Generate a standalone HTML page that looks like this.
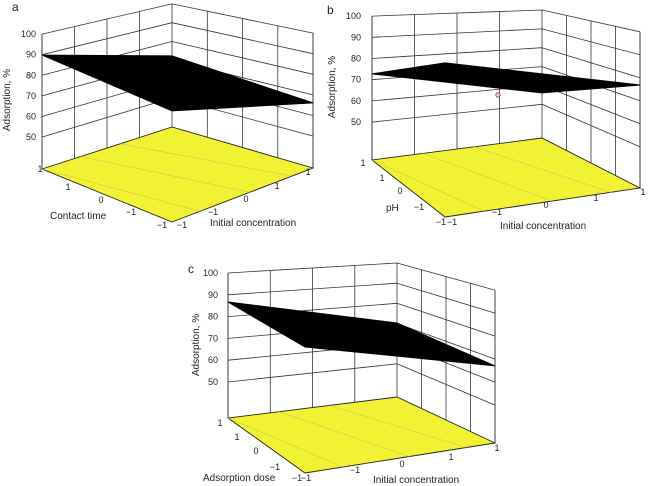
<!DOCTYPE html>
<html><head><meta charset="utf-8"><style>
html,body{margin:0;padding:0;background:#fff;}
svg{display:block;font-family:"Liberation Sans",sans-serif;}
text{fill:#222;font-size:9.5px;}
</style></head><body>
<svg id="fig" width="650" height="486" viewBox="0 0 650 486" xmlns="http://www.w3.org/2000/svg"></svg>
<script>
// Surface corner values (Adsorption, %) at corners [F(-1,-1), R(1,-1), B(1,1), L(-1,1)]
const surfaceA = [85, 66.1, 72.3, 89.8];
const surfaceB = [96.3, 76.9, 56, 72.7];
const surfaceC = [86, 67, 70.2, 86.7];
const zTicks = [50, 60, 70, 80, 90, 100];
const zTickLabels = ["50", "60", "70", "80", "90", "100"];
const gridSteps = [-1, -0.5, 0, 0.5, 1];

const NS = "http://www.w3.org/2000/svg";
const svg = document.getElementById("fig");
function mk(tag, attrs, parent) {
  const e = document.createElementNS(NS, tag);
  for (const k in attrs) e.setAttribute(k, attrs[k]);
  (parent || svg).appendChild(e);
  return e;
}
function txt(str, x, y, parent, anchor, size, rot) {
  const t = mk("text", {x: x, y: y, "text-anchor": anchor || "start"}, parent);
  if (size) t.style.fontSize = size + "px";
  if (rot) t.setAttribute("transform", "rotate(-90 " + x + " " + y + ")");
  t.textContent = str;
  return t;
}
// panel geometry: floor corners F,R,B,L, pixel-per-unit k at each, zFloor
const panels = [
  {id: "a", data: surfaceA, F: [172, 222], R: [313, 168], B: [172, 127], L: [42, 169], k: [2.2, 2.06, 1.88, 2.06], zF: 34.5,
   letter: [12, 11], ylab: [10, 100], zlabX: 36, vName: "Contact time", vLab: [50, 219], uLab: [210, 226],
   vTicks: [["1", 40, 172], ["1", 68, 190], ["0", 101, 203], ["\u22121", 131, 215], ["\u22121", 162, 228]],
   uTicks: [["\u22121", 182, 228], ["\u22121", 213, 215], ["0", 246, 202], ["1", 277, 189], ["1", 308, 175]]},
  {id: "b", data: surfaceB, F: [445, 217], R: [640, 188], B: [542, 138], L: [372, 160], k: [2.4, 2.3, 1.885, 2.12], zF: 32.1,
   letter: [327, 14], ylab: [335, 87], zlabX: 361, vName: "pH", vLab: [386, 211], uLab: [500, 229],
   vTicks: [["1", 363, 166], ["1", 382, 181], ["0", 400, 194], ["\u22121", 419, 210], ["\u22121", 441, 225]],
   uTicks: [["\u22121", 452, 225], ["\u22121", 497, 215], ["0", 546, 208], ["1", 596, 201], ["1", 643, 195]]},
  {id: "c", data: surfaceC, F: [305, 473], R: [495, 443], B: [397, 397], L: [228, 418], k: [2.4, 2.3, 2.015, 2.18], zF: 33.5,
   letter: [188, 273], ylab: [199, 345], zlabX: 218, vName: "Adsorption dose", vLab: [203, 481], uLab: [373, 483],
   vTicks: [["1", 220, 426], ["1", 237, 440], ["0", 256, 454], ["\u22121", 275, 470], ["\u22121", 297, 481]],
   uTicks: [["\u22121", 306, 481], ["\u22121", 355, 473], ["0", 402, 467], ["1", 451, 460], ["1", 497, 451]]}
];
function projector(p) {
  return function (u, v, z) {
    const s = (u + 1) / 2, t = (v + 1) / 2;
    const w = [(1 - s) * (1 - t), s * (1 - t), s * t, (1 - s) * t];
    const C = [p.F, p.R, p.B, p.L];
    let x = 0, y = 0, k = 0;
    for (let i = 0; i < 4; i++) { x += w[i] * C[i][0]; y += w[i] * C[i][1]; k += w[i] * p.k[i]; }
    return [x, y - k * (z - p.zF)];
  };
}
const ln = (a, b) => "M" + a[0].toFixed(1) + "," + a[1].toFixed(1) + "L" + b[0].toFixed(1) + "," + b[1].toFixed(1);

panels.forEach(p => {
  const P = projector(p);
  const g = mk("g", {});
  
  
  // walls grid
  let d = "";
  zTicks.forEach(z => { d += ln(P(-1, 1, z), P(1, 1, z)) + ln(P(1, 1, z), P(1, -1, z)); });
  gridSteps.forEach(s => { d += ln(P(s, 1, p.zF), P(s, 1, 100)) + ln(P(1, s, p.zF), P(1, s, 100)); });
  const grid = mk("path", {d: d, stroke: "#333", "stroke-width": 0.8, fill: "none"}, g);
  
  
  // floor
  const fl = [P(-1, -1, p.zF), P(1, -1, p.zF), P(1, 1, p.zF), P(-1, 1, p.zF)];
  const floor = mk("polygon", {points: fl.map(q => q.join(",")).join(" "), fill: "#f2f235", stroke: "#222", "stroke-width": 0.9}, g);
  
  
  let c = "";
  [-0.6, 0.1, 0.7].forEach(s => { c += ln(P(s, -1, p.zF), P(s - 0.5 < -1 ? -1 : s - 0.5, 1, p.zF)); });
  const cont = mk("path", {d: c, stroke: "#c9c950", "stroke-width": 0.6, fill: "none"}, g);
  
  
  // left vertical edge
  const edge = mk("path", {d: ln(P(-1, 1, p.zF), P(-1, 1, 100)) + ln(P(1, -1, p.zF), P(1, -1, 100)), stroke: "#333", "stroke-width": 0.8}, g);
  
  
  // surface
  const corners = [[-1, -1], [1, -1], [1, 1], [-1, 1]];
  const sp = corners.map((cc, i) => P(cc[0], cc[1], p.data[i]));
  const surf = mk("polygon", {points: sp.map(q => q[0].toFixed(1) + "," + q[1].toFixed(1)).join(" "), fill: "#000", stroke: "#000", "stroke-width": 1}, g);
  
  
  // z ticks
  zTicks.forEach((z, i) => {
    const q = P(-1, 1, z);
    const t = txt(zTickLabels[i], p.zlabX, q[1] + 3, g, "end", 9);
    
    
  });
  p.vTicks.forEach(v => { const t = txt(v[0], v[1], v[2], g, "middle", 9);   });
  p.uTicks.forEach(v => { const t = txt(v[0], v[1], v[2], g, "middle", 9);   });
  const yl = txt("Adsorption, %", p.ylab[0], p.ylab[1], g, "middle", 10, true);
  
  
  const vl = txt(p.vName, p.vLab[0], p.vLab[1], g, "start", 10);
  
  
  const ul = txt("Initial concentration", p.uLab[0], p.uLab[1], g, "start", 10);
  
  
  const lt = txt(p.id, p.letter[0], p.letter[1], g, "start", 12);
  
  
});
const mark = mk("circle", {cx: 498, cy: 95, r: 2.2, fill: "#f0c8c8", stroke: "#a04040", "stroke-width": 0.8});


</script>
</body></html>
